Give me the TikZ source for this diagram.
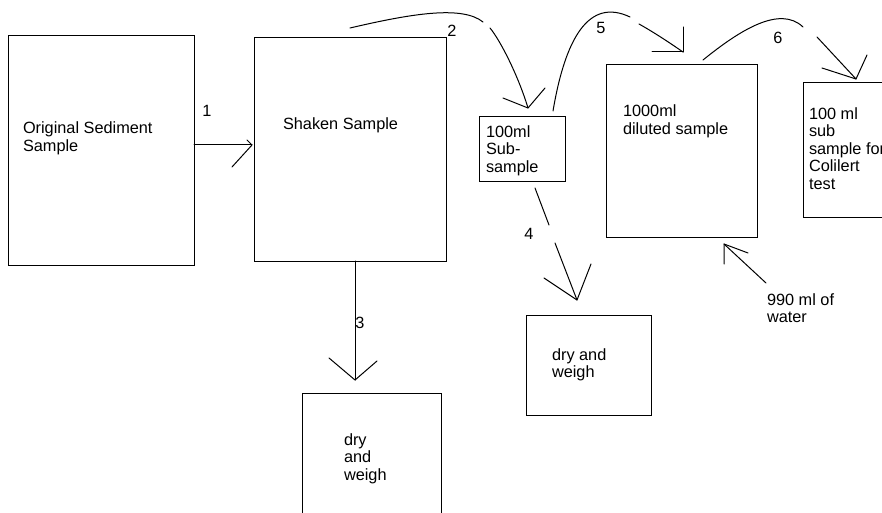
\documentclass[tikz,border=0pt]{standalone}
\usepackage{fontspec}
\setmainfont{Liberation Sans}
\usetikzlibrary{calc}
\begin{document}
\begin{tikzpicture}[x=1pt,y=-1pt,
  every node/.style={font=\fontsize{16.3}{17.5}\selectfont, inner sep=0pt, outer sep=0pt},
  box/.style={draw, line width=1pt, rectangle},
  % multi-line texts are placed by the baseline of their last line
  txt/.style={anchor=base west, align=left},
  num/.style={anchor=center},
  link/.style={line width=1pt, line cap=round}]
\useasboundingbox (0,0) rectangle (882,513);
\fill[white] (0,0) rectangle (882,513);
\clip (0,0) rectangle (882,513);

% boxes
\node[box, minimum width=186pt, minimum height=229pt] (orig) at (101,150.5) {};
\node[box, minimum width=192pt, minimum height=223pt] (shaken) at (350,149.5) {};
\node[box, minimum width=86pt, minimum height=64pt] (sub) at (522,149) {};
\node[box, minimum width=151pt, minimum height=172pt] (dil) at (681.5,151) {};
\node[box, minimum width=97pt, minimum height=134pt] (coli) at (851.5,150) {};
\node[box, minimum width=125pt, minimum height=100pt] (dryA) at (588.5,365) {};
\node[box, minimum width=139pt, minimum height=137pt] (dryB) at (371.5,461.5) {};

% box texts
\node[txt] (torig) at (23,151.5) {Original Sediment\\Sample};
\node[txt] (tshaken) at (283,130) {Shaken Sample};
\node[txt] (tsub) at (486,172) {100ml\\Sub-\\sample};
\node[txt] (tdil) at (623,134.5) {1000ml\\diluted sample};
\node[txt] (tcoli) at (809,189) {100 ml\\sub\\sample for\\Colilert\\test};
\node[txt] (tdryA) at (552,377.5) {dry and\\weigh};
\node[txt] (tdryB) at (344,480) {dry\\and\\weigh};
\node[txt] (twater) at (767,322.5) {990 ml of\\water};

% step numbers
\node[num] (n1) at (207,111) {1};
\node[num] (n2) at (452,31) {2};
\node[num] (n3) at (360,323) {3};
\node[num] (n4) at (529,234) {4};
\node[num] (n5) at (601,28) {5};
\node[num] (n6) at (778,38) {6};

% 1: original -> shaken
\coordinate (t1) at (252,145);
\draw[link] (orig.east |- t1) -- (t1);
\draw[link] (t1) -- ++(-20,22) (t1) -- ++(-5,-5);

% 2: shaken -> sub-sample
\coordinate (s2) at (350,28);
\coordinate (g2a) at (483,22);
\coordinate (g2b) at (490,28);
\coordinate (t2) at (528,108);
\draw[link] (s2) .. controls (410,14) and (462,5) .. (g2a);
\draw[link] (g2b) .. controls (500,40) and (518,75) .. (t2);
\draw[link] (t2) -- ++(-25,-10) (t2) -- ++(17,-20);

% 3: shaken -> dry and weigh
\coordinate (t3) at (355,380);
\draw[link] (t3 |- shaken.south) -- (t3);
\draw[link] (t3) -- ++(-26,-22) (t3) -- ++(22,-19);

% 4: sub-sample -> dry and weigh
\coordinate (s4) at (535,188);
\coordinate (g4a) at (549,225);
\coordinate (g4b) at (555,243);
\coordinate (t4) at (577,300);
\draw[link] (s4) -- (g4a);
\draw[link] (g4b) -- (t4);
\draw[link] (t4) -- ++(-33,-22) (t4) -- ++(14,-36);

% 5: sub-sample -> diluted sample
\coordinate (s5) at (553,111);
\coordinate (g5a) at (630,17);
\coordinate (g5b) at (639,24);
\coordinate (t5) at (683,52);
\draw[link] (s5) .. controls (565,40) and (588,-3) .. (g5a);
\draw[link] (g5b) .. controls (655,33) and (670,43) .. (t5);
\draw[link] (t5) -- ++(0,-25) (t5) -- ++(-31,0);

% 6: diluted sample -> Colilert sub-sample
\coordinate (s6) at (703,60);
\coordinate (g6a) at (803,27);
\coordinate (g6b) at (817,37);
\coordinate (t6) at (856,79);
\draw[link] (s6) .. controls (740,30) and (780,5) .. (g6a);
\draw[link] (g6b) -- (t6);
\draw[link] (t6) -- ++(-34,-11) (t6) -- ++(11,-24);

% water added to the diluted sample
\coordinate (sw) at (766,283);
\coordinate (tw) at (724,244);
\draw[link] (sw) -- (tw);
\draw[link] (tw) -- ++(0,20) (tw) -- ++(24,9);
\end{tikzpicture}
\end{document}
